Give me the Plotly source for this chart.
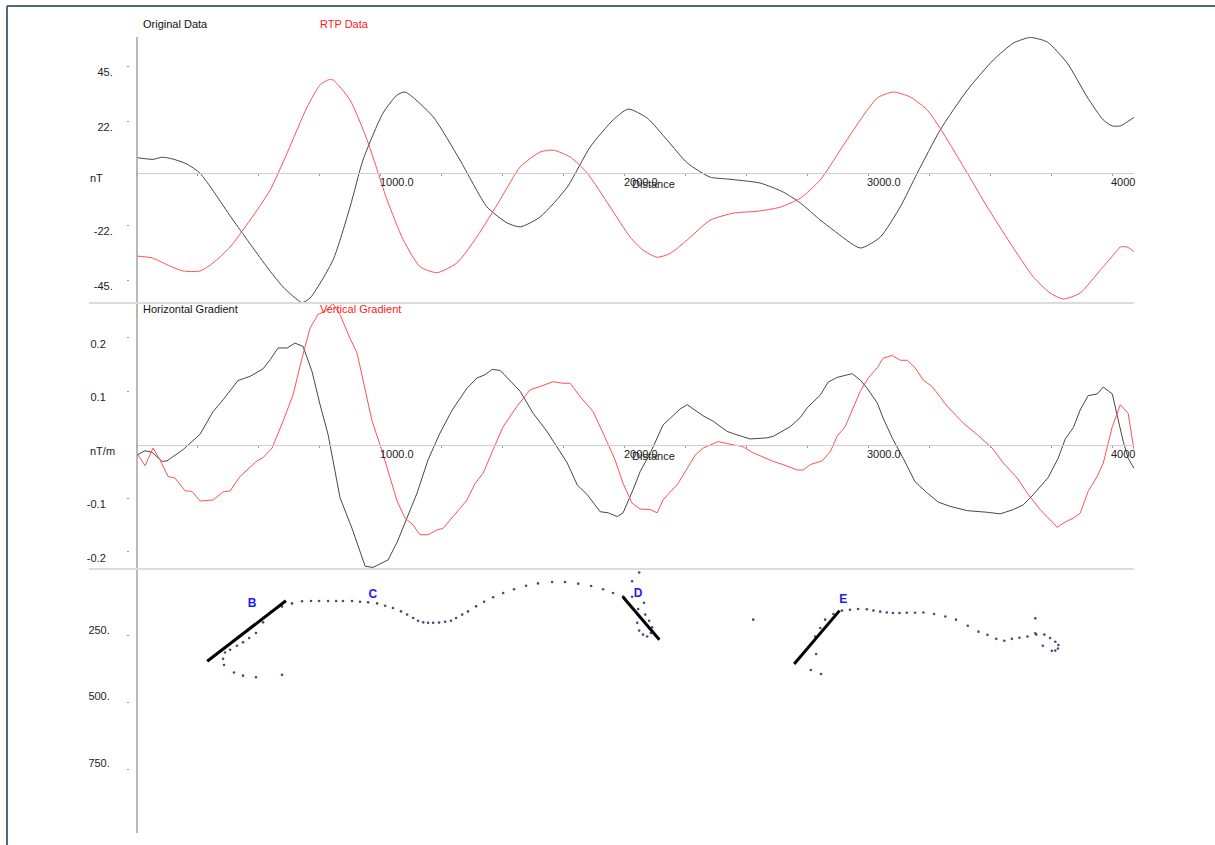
import plotly.graph_objects as go

# ---- profile data (distance in m) ----
orig_dist = [0, 66, 103, 148, 205, 259, 394, 533, 599, 677, 710, 804, 874, 927, 1009, 1067, 1100,
             1215, 1325, 1436, 1518, 1572, 1654, 1765, 1859, 1953, 2015, 2093, 2175, 2257, 2351,
             2421, 2556, 2651, 2721, 2803, 2856, 2967, 3049, 3131, 3201, 3295, 3406, 3513, 3595,
             3664, 3734, 3816, 3898, 3964, 4001, 4034, 4090]
orig_nt = [6.6, 5.9, 6.8, 6.0, 3.9, 0.0, -19.7, -39.5, -47.9, -54.5, -52.6, -36.6, -14.2, 5.6, 25.4,
           33.0, 34.3, 23.8, 5.6, -14.2, -20.9, -22.6, -18.4, -5.8, 11.1, 22.5, 27.1, 23.3, 14.0,
           4.4, -1.6, -2.4, -4.1, -7.9, -12.5, -19.7, -23.9, -31.5, -26.9, -14.2, 0.1, 18.3, 35.1,
           47.8, 54.9, 57.3, 55.4, 46.5, 32.2, 22.5, 20.0, 20.0, 23.6]

rtp_dist = [0, 62, 135, 189, 259, 312, 382, 464, 546, 616, 698, 751, 784, 804, 874, 944, 1026, 1092,
            1161, 1231, 1313, 1395, 1490, 1572, 1654, 1707, 1777, 1847, 1941, 2023, 2076, 2134,
            2187, 2257, 2351, 2446, 2544, 2638, 2721, 2803, 2885, 2967, 3037, 3102, 3172, 3242,
            3307, 3406, 3488, 3582, 3677, 3746, 3800, 3869, 3952, 4005, 4034, 4062, 4090]
rtp_nt = [-34.9, -35.7, -39.1, -41.2, -41.2, -37.8, -31.1, -19.7, -7.1, 8.6, 28.0, 37.3, 39.4, 39.4,
          30.9, 14.1, -11.2, -28.0, -39.4, -41.9, -37.7, -26.7, -11.1, 2.7, 9.0, 9.8, 6.9, 0.1,
          -14.2, -26.9, -32.4, -35.4, -33.8, -28.1, -19.8, -16.8, -16.0, -14.3, -10.5, -2.8, 9.8,
          22.5, 31.8, 34.3, 32.2, 26.7, 17.0, 0.1, -14.2, -29.4, -43.7, -50.5, -53.0, -50.5, -40.8,
          -34.5, -31.1, -31.1, -33.0]

# ---- gradients (nT/m) ----
hg_dist = [0, 33, 62, 103, 123, 189, 259, 312, 353, 414, 464, 517, 546, 579, 616, 648, 681, 718,
           751, 784, 833, 882, 936, 968, 1030, 1067, 1149, 1194, 1243, 1293, 1354, 1395, 1428,
           1457, 1490, 1572, 1625, 1682, 1765, 1806, 1847, 1900, 1933, 1970, 1994, 2035, 2064,
           2105, 2158, 2228, 2257, 2323, 2364, 2421, 2446, 2515, 2585, 2610, 2680, 2721, 2749,
           2803, 2835, 2872, 2934, 2967, 2995, 3037, 3061, 3098, 3143, 3192, 3242, 3287, 3336,
           3406, 3488, 3541, 3595, 3636, 3677, 3738, 3779, 3808, 3841, 3869, 3902, 3939, 3964,
           4001, 4025, 4046, 4066, 4090]
hg = [-0.019, -0.011, -0.014, -0.031, -0.030, -0.009, 0.020, 0.062, 0.084, 0.120, 0.128, 0.142,
      0.159, 0.181, 0.181, 0.190, 0.184, 0.137, 0.075, 0.019, -0.099, -0.156, -0.227, -0.229,
      -0.215, -0.182, -0.090, -0.028, 0.022, 0.065, 0.106, 0.125, 0.131, 0.141, 0.139, 0.100,
      0.059, 0.025, -0.034, -0.075, -0.093, -0.125, -0.127, -0.134, -0.127, -0.084, -0.050,
      -0.016, 0.037, 0.067, 0.075, 0.054, 0.044, 0.025, 0.021, 0.011, 0.013, 0.016, 0.034,
      0.051, 0.069, 0.093, 0.117, 0.126, 0.133, 0.121, 0.106, 0.078, 0.050, 0.013, -0.025,
      -0.069, -0.090, -0.107, -0.115, -0.123, -0.126, -0.129, -0.121, -0.112, -0.093, -0.061,
      -0.025, 0.011, 0.032, 0.065, 0.092, 0.095, 0.108, 0.095, 0.047, 0.006, -0.025, -0.044]

vg_dist = [0, 33, 66, 94, 127, 156, 197, 226, 259, 312, 353, 382, 423, 451, 492, 517, 554, 599,
           640, 677, 710, 743, 771, 804, 833, 874, 903, 964, 1005, 1067, 1100, 1133, 1161, 1194,
           1231, 1256, 1297, 1354, 1387, 1420, 1461, 1502, 1559, 1613, 1654, 1707, 1748, 1777,
           1818, 1871, 1912, 1961, 1994, 2031, 2064, 2105, 2134, 2158, 2220, 2290, 2323, 2384,
           2446, 2483, 2524, 2610, 2651, 2708, 2733, 2762, 2811, 2844, 2872, 2905, 2938, 2967,
           3000, 3037, 3061, 3098, 3131, 3160, 3192, 3225, 3262, 3324, 3389, 3447, 3508, 3554,
           3611, 3652, 3705, 3775, 3808, 3841, 3869, 3902, 3939, 3964, 4001, 4034, 4066, 4090]
vg = [-0.016, -0.039, -0.006, -0.028, -0.059, -0.062, -0.086, -0.087, -0.105, -0.103, -0.088,
      -0.086, -0.059, -0.047, -0.030, -0.024, -0.006, 0.044, 0.093, 0.162, 0.218, 0.244, 0.249,
      0.264, 0.243, 0.199, 0.171, 0.045, -0.011, -0.105, -0.137, -0.150, -0.168, -0.168,
      -0.159, -0.156, -0.134, -0.103, -0.072, -0.053, -0.009, 0.034, 0.072, 0.103, 0.109,
      0.118, 0.115, 0.115, 0.090, 0.062, 0.022, -0.028, -0.072, -0.109, -0.120, -0.121, -0.127,
      -0.103, -0.072, -0.019, -0.006, 0.006, 0.000, -0.003, -0.014, -0.031, -0.037, -0.047,
      -0.047, -0.037, -0.030, -0.013, 0.016, 0.034, 0.069, 0.100, 0.125, 0.144, 0.162, 0.167,
      0.158, 0.158, 0.144, 0.121, 0.109, 0.072, 0.041, 0.019, -0.006, -0.034, -0.062, -0.090,
      -0.121, -0.154, -0.144, -0.137, -0.128, -0.087, -0.059, -0.034, 0.034, 0.075, 0.059, -0.009]

# ---- depth solutions (m) ----
sol_dist = [595, 636, 677, 714, 747, 784, 817, 845, 882, 915, 948, 985, 1018, 1050, 1083, 1108,
            1133, 1153, 1174, 1194, 1215, 1239, 1264, 1288, 1309, 1334, 1358, 1391, 1424, 1461,
            1502, 1547, 1596, 1645, 1703, 1756, 1810, 1863, 1912, 1953, 1994, 2031, 2060,
            2031, 2080, 2056, 2085, 2052, 2101, 2060, 2113, 2076, 2093, 2108,
            517, 488, 460, 435, 410, 382, 361, 353, 357, 398, 435, 488, 595,
            2528, 2892, 2925, 2958, 2994, 3021, 3049, 3076, 3101, 3128, 3158, 3192, 3226, 3270,
            3316, 3360, 3408, 3452, 3489, 3525, 3558, 3589, 3620, 3653, 3685, 3689, 3685, 3722,
            3746, 3767, 3780, 3778, 3767, 3753, 3716,
            2857, 2823, 2803, 2782, 2786, 2764, 2806]
sol_depth = [141, 129, 121, 120, 120, 120, 120, 120, 120, 123, 125, 129, 138, 146, 159, 171,
             184, 194, 200, 202, 202, 201, 198, 194, 184, 171, 159, 140, 123, 106,
             90, 76, 63, 54, 49, 49, 55, 64, 76, 90, 103, 46, 13,
             104, 127, 150, 171, 202, 194, 231, 219, 246, 253, 240,
             200, 240, 259, 275, 288, 303, 313, 337, 360, 388, 400, 406, 397,
             190, 156, 153, 150, 151, 156, 160, 163, 165, 165, 164, 164, 163, 169,
             178, 190, 213, 235, 247, 262, 269, 262, 258, 253, 241, 246, 185, 246,
             259, 273, 285, 298, 306, 307, 288,
             169, 190, 221, 253, 319, 379, 394]

# interpreted contacts: (start distance, start depth, end distance, end depth)
contact_names = ["B", "D", "E"]
contact_x0 = [288, 1993, 2696]
contact_d0 = [346, 104, 356]
contact_x1 = [611, 2143, 2882]
contact_d1 = [119, 265, 156]

label_names = ["B", "C", "D", "E"]
label_dist = [472, 968, 2056, 2897]
label_depth = [130, 96, 93, 116]

dist_ticks = [1000, 2000, 3000, 4000]
dist_tick_text = ["1000.0", "2000.0", "3000.0", "4000"]
nt_ticks = [45, 22, -22, -45]
grad_ticks = [0.2, 0.1, -0.1, -0.2]
depth_ticks = [250, 500, 750]

# ---- layout geometry ----
W, H = 1215, 845
ML, MR, MT, MB = 80, 81, 37, 12
PW, PH = W - ML - MR, H - MT - MB


def px(xpix):
    return (xpix - ML) / PW


def py(ypix):
    return (H - MB - ypix) / PH


XDOM = [px(137), 1.0]
YAX_POS = px(129)
D_TOP = [py(303), 1.0]
D_MID = [py(569), py(303)]
D_BOT = [0.0, py(569)]
XRANGE = [0, 4090]

FONT = "Liberation Sans, Arial, sans-serif"
BLACK_LINE = "#474747"
RED_LINE = "#ff5252"
GRID = "#cfcfcf"

fig = go.Figure()

fig.add_trace(go.Scatter(x=orig_dist, y=orig_nt, mode="lines", xaxis="x", yaxis="y",
                         line=dict(color=BLACK_LINE, width=1, shape="spline", smoothing=0.6)))
fig.add_trace(go.Scatter(x=rtp_dist, y=rtp_nt, mode="lines", xaxis="x", yaxis="y",
                         line=dict(color=RED_LINE, width=1, shape="spline", smoothing=0.6)))
fig.add_trace(go.Scatter(x=hg_dist, y=hg, mode="lines", xaxis="x2", yaxis="y2",
                         line=dict(color=BLACK_LINE, width=1)))
fig.add_trace(go.Scatter(x=vg_dist, y=vg, mode="lines", xaxis="x2", yaxis="y2",
                         line=dict(color=RED_LINE, width=1)))
fig.add_trace(go.Scatter(x=sol_dist, y=sol_depth, mode="markers", xaxis="x3", yaxis="y3",
                         marker=dict(color="#4a4a7c", size=2.6, line=dict(width=0))))
for i in range(len(contact_names)):
    fig.add_trace(go.Scatter(x=[contact_x0[i], contact_x1[i]], y=[contact_d0[i], contact_d1[i]],
                             mode="lines", xaxis="x3", yaxis="y3",
                             line=dict(color="black", width=3)))
fig.add_trace(go.Scatter(x=label_dist, y=label_depth, mode="text", text=label_names,
                         xaxis="x3", yaxis="y3",
                         textfont=dict(family=FONT, size=12, color="#1a1aff", weight="bold")))

tickfont = dict(family=FONT, size=11, color="#222222")

xcommon = dict(domain=XDOM, range=XRANGE, showgrid=False, zeroline=False, fixedrange=True)
fig.update_layout(
    xaxis=dict(**xcommon, anchor="free", position=py(173.3), showline=True, linecolor=GRID,
               linewidth=1, ticks="outside", ticklen=2, tickcolor="#9a9a9a", tick0=0, dtick=250,
               showticklabels=False),
    xaxis2=dict(**xcommon, anchor="free", position=py(445), showline=True, linecolor=GRID,
                linewidth=1, ticks="outside", ticklen=2, tickcolor="#9a9a9a", tick0=0, dtick=250,
                showticklabels=False),
    xaxis3=dict(**xcommon, anchor="free", position=0, visible=False),
    yaxis=dict(domain=D_TOP, range=[-54.7, 57.5], anchor="free", position=YAX_POS,
               showgrid=False, zeroline=False, showline=False, ticks="outside", ticklen=2,
               tickcolor="#9a9a9a", tickvals=nt_ticks, ticktext=[f"{v}." for v in nt_ticks],
               tickfont=tickfont, ticklabelstandoff=12, ticklabelshift=6),
    yaxis2=dict(domain=D_MID, range=[-0.232, 0.265], anchor="free", position=YAX_POS,
                showgrid=False, zeroline=False, showline=False, ticks="outside", ticklen=2,
                tickcolor="#9a9a9a", tickvals=grad_ticks, ticktext=[str(v) for v in grad_ticks],
                tickfont=tickfont, ticklabelstandoff=19, ticklabelshift=6),
    yaxis3=dict(domain=D_BOT, range=[990, 0], anchor="free", position=YAX_POS,
                showgrid=False, zeroline=False, showline=False, ticks="outside", ticklen=2,
                tickcolor="#9a9a9a", tickvals=depth_ticks, ticktext=[f"{v}." for v in depth_ticks],
                tickfont=tickfont, ticklabelstandoff=15, ticklabelshift=6),
)

shapes = []
# vertical distance axis shared by the three panels
shapes.append(dict(type="line", xref="paper", yref="paper", x0=px(137), x1=px(137),
                   y0=py(833), y1=py(37), line=dict(color="#a0a0a0", width=1.5)))
# panel separators
for ysep in (303, 569):
    shapes.append(dict(type="line", xref="paper", yref="paper", x0=px(89), x1=1.0,
                       y0=py(ysep), y1=py(ysep), line=dict(color="#dcdcdc", width=2)))
# window frame: left and top edges only
FRAME = dict(color="#4e6a7b", width=2)
shapes.append(dict(type="line", xref="paper", yref="paper", x0=px(7), x1=px(7),
                   y0=py(845), y1=py(6), line=FRAME))
shapes.append(dict(type="line", xref="paper", yref="paper", x0=px(7), x1=px(1215),
                   y0=py(6), y1=py(6), line=FRAME))

annotations = []
for xa, ya in (("x", "y"), ("x2", "y2")):
    for v, t in zip(dist_ticks, dist_tick_text):
        annotations.append(dict(x=v, y=0, xref=xa, yref=ya, text=t, showarrow=False,
                                xanchor="left", yanchor="top", xshift=-3, yshift=-1,
                                font=tickfont))
    annotations.append(dict(x=2117, y=0, xref=xa, yref=ya, text="Distance", showarrow=False,
                            xanchor="center", yanchor="top", yshift=-3, font=tickfont))

annotations.append(dict(x=px(88), y=py(178), xref="paper", yref="paper", text="nT",
                        showarrow=False, xanchor="left", yanchor="middle", font=tickfont))
annotations.append(dict(x=px(88), y=py(451), xref="paper", yref="paper", text="nT/m",
                        showarrow=False, xanchor="left", yanchor="middle", font=tickfont))

titles = [("Original Data", 141, 24, "#111111"), ("RTP Data", 318, 24, "#ff1a1a"),
          ("Horizontal Gradient", 141, 309, "#111111"), ("Vertical Gradient", 318, 309, "#ff1a1a")]
for txt, xl, yc, col in titles:
    annotations.append(dict(x=px(xl), y=py(yc), xref="paper", yref="paper", text=txt,
                            showarrow=False, xanchor="left", yanchor="middle",
                            font=dict(family=FONT, size=11, color=col)))

fig.update_layout(
    width=W, height=H, margin=dict(l=ML, r=MR, t=MT, b=MB),
    paper_bgcolor="white", plot_bgcolor="white", showlegend=False,
    shapes=shapes, annotations=annotations,
    font=dict(family=FONT, size=11, color="#222222"),
)

fig.write_html("out.html")
